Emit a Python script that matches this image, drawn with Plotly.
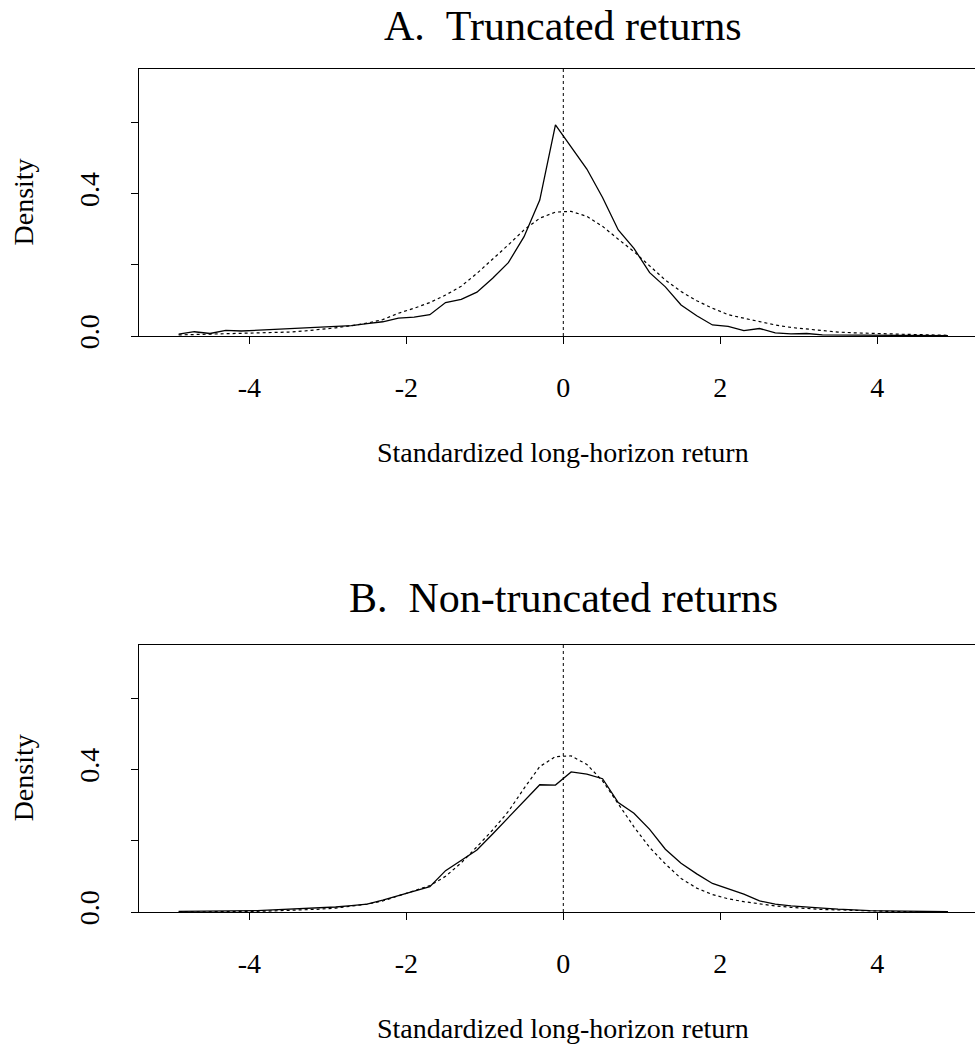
import plotly.graph_objects as go

# Grid of return values (standardized long-horizon return)
x_grid = [-4.9, -4.7, -4.5, -4.3, -4.1, -3.9, -3.7, -3.5, -3.3, -3.1,
          -2.9, -2.7, -2.5, -2.3, -2.1, -1.9, -1.7, -1.5, -1.3, -1.1,
          -0.9, -0.7, -0.5, -0.3, -0.1, 0.1, 0.3, 0.5, 0.7, 0.9,
          1.1, 1.3, 1.5, 1.7, 1.9, 2.1, 2.3, 2.5, 2.7, 2.9,
          3.1, 3.3, 3.5, 3.7, 3.9, 4.1, 4.3, 4.5, 4.7, 4.9]

# Panel A: truncated returns
a_empirical = [0.005, 0.012, 0.007, 0.016, 0.014, 0.016, 0.019, 0.020, 0.021, 0.023,
               0.025, 0.029, 0.035, 0.040, 0.050, 0.053, 0.060, 0.094, 0.103, 0.123,
               0.162, 0.206, 0.279, 0.382, 0.593, 0.532, 0.469, 0.389, 0.298, 0.246,
               0.178, 0.138, 0.087, 0.057, 0.031, 0.027, 0.015, 0.021, 0.009, 0.006,
               0.007, 0.003, 0.003, 0.002, 0.002, 0.001, 0.001, 0.001, 0.001, 0.001]
a_reference = [0.003, 0.004, 0.004, 0.005, 0.006, 0.008, 0.009, 0.011, 0.014, 0.018,
               0.023, 0.029, 0.036, 0.046, 0.064, 0.078, 0.094, 0.115, 0.140, 0.176,
               0.215, 0.256, 0.298, 0.331, 0.348, 0.350, 0.336, 0.308, 0.272, 0.237,
               0.197, 0.157, 0.125, 0.099, 0.078, 0.060, 0.050, 0.040, 0.031, 0.024,
               0.019, 0.014, 0.011, 0.009, 0.007, 0.006, 0.005, 0.004, 0.003, 0.002]

# Panel B: non-truncated returns
b_empirical = [0.002, 0.002, 0.003, 0.003, 0.003, 0.004, 0.006, 0.008, 0.009, 0.010,
               0.014, 0.018, 0.022, 0.033, 0.046, 0.057, 0.071, 0.116, 0.146, 0.174,
               0.219, 0.266, 0.312, 0.357, 0.356, 0.393, 0.387, 0.374, 0.307, 0.277,
               0.232, 0.176, 0.137, 0.107, 0.080, 0.066, 0.050, 0.031, 0.022, 0.017,
               0.013, 0.011, 0.008, 0.005, 0.004, 0.003, 0.002, 0.002, 0.001, 0.001]
b_reference = [0.000, 0.000, 0.001, 0.001, 0.001, 0.002, 0.003, 0.004, 0.006, 0.008,
               0.011, 0.016, 0.022, 0.031, 0.045, 0.058, 0.074, 0.100, 0.138, 0.183,
               0.230, 0.282, 0.347, 0.408, 0.436, 0.438, 0.414, 0.368, 0.303, 0.239,
               0.181, 0.135, 0.094, 0.067, 0.049, 0.037, 0.029, 0.022, 0.017, 0.013,
               0.009, 0.007, 0.006, 0.004, 0.003, 0.002, 0.001, 0.001, 0.000, 0.000]

x_tickvals = [-4, -2, 0, 2, 4]
x_ticktext = ["-4", "-2", "0", "2", "4"]
y_tickvals = [0.0, 0.2, 0.4, 0.6]
y_ticktext = ["0.0", "", "0.4", ""]

titles = ["A.\u00a0\u00a0Truncated returns", "B.\u00a0\u00a0Non-truncated returns"]
x_label = "Standardized long-horizon return"
y_label = "Density"

W = 975
FRAME_H = 1044          # layout frame used for positioning
H = 1057                # rendered figure height
FONT = "Liberation Serif, Times New Roman, serif"
BASE = 28

def py(p):  # pixel row in frame -> paper y
    return 1 - p / FRAME_H

def px(p):
    return p / W

fig = go.Figure()
panels = [(a_empirical, a_reference, "x", "y"), (b_empirical, b_reference, "x2", "y2")]
for emp, ref, xa, ya in panels:
    fig.add_trace(go.Scatter(x=x_grid, y=emp, mode="lines", xaxis=xa, yaxis=ya,
                             line=dict(color="black", width=1.3), showlegend=False))
    fig.add_trace(go.Scatter(x=x_grid, y=ref, mode="lines", xaxis=xa, yaxis=ya,
                             line=dict(color="black", width=1.2, dash="3px,3px"), showlegend=False))

left, right = 139.3, 975
x0px = 563.3
ppu = 78.5
xrange = [(left - x0px) / ppu, (right - x0px) / ppu]

panel_px = [(69, 336), (644.7, 912)]  # top, bottom pixel rows
title_centers = [26, 597.5]

common_x = dict(range=xrange, tickvals=x_tickvals, ticktext=x_ticktext,
                showline=True, mirror=True, linecolor="black", linewidth=1,
                ticks="outside", ticklen=7, tickwidth=1, tickcolor="black",
                showgrid=False, zeroline=False, ticklabelstandoff=19,
                tickfont=dict(family=FONT, size=BASE, color="black"),
                domain=[px(left), 1.0])
common_y = dict(range=[0, 0.75], tickvals=y_tickvals, ticktext=y_ticktext,
                showline=True, mirror=False, linecolor="black", linewidth=1,
                ticks="outside", ticklen=7, tickwidth=1, tickcolor="black",
                showgrid=False, zeroline=False, tickangle=-90, ticklabelstandoff=21,
                tickfont=dict(family=FONT, size=BASE, color="black"))

fig.update_layout(
    width=W, height=H, margin=dict(l=0, r=0, t=0, b=0),
    paper_bgcolor="white", plot_bgcolor="white",
    xaxis=dict(**common_x, anchor="y"),
    yaxis=dict(**common_y, anchor="x", domain=[py(panel_px[0][1]), py(panel_px[0][0])]),
    xaxis2=dict(**common_x, anchor="y2"),
    yaxis2=dict(**common_y, anchor="x2", domain=[py(panel_px[1][1]), py(panel_px[1][0])]),
)

for i, (top, bot) in enumerate(panel_px):
    xr = "x" if i == 0 else "x2"
    yr = "y" if i == 0 else "y2"
    fig.add_shape(type="line", xref=xr, yref=yr + " domain", x0=0, x1=0, y0=0, y1=1,
                  line=dict(color="black", width=1, dash="3px,3px"))
    fig.add_annotation(text=titles[i], xref="paper", yref="paper",
                       x=px(x0px), y=py(title_centers[i]), xanchor="center", yanchor="middle",
                       showarrow=False, font=dict(family=FONT, size=42, color="black"))
    fig.add_annotation(text=x_label, xref="paper", yref="paper",
                       x=px(x0px), y=py(bot + 116), xanchor="center", yanchor="middle",
                       showarrow=False, font=dict(family=FONT, size=BASE, color="black"))
    fig.add_annotation(text=y_label, xref="paper", yref="paper",
                       x=px(23), y=py((top + bot) / 2), xanchor="center", yanchor="middle",
                       textangle=-90, showarrow=False,
                       font=dict(family=FONT, size=BASE, color="black"))

page_css = "document.documentElement.style.margin='0';document.body.style.margin='0';"
fig.write_html("out.html", config={"displayModeBar": False, "staticPlot": True},
               post_script=page_css)
